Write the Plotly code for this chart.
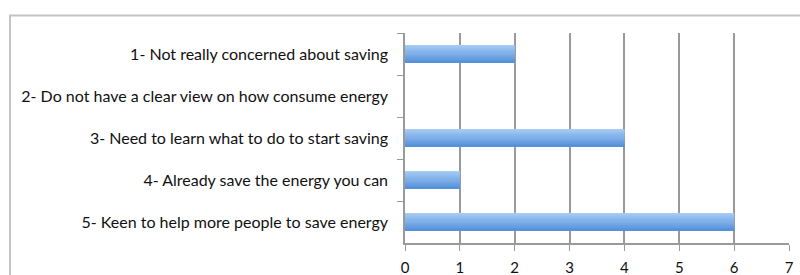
import plotly.graph_objects as go

categories = [
    "1- Not really concerned about saving",
    "2- Do not have a clear view on how consume energy",
    "3- Need to learn what to do to start saving",
    "4- Already save the energy you can",
    "5- Keen to help more people to save energy",
]
values = [2, 0, 4, 1, 6]
x_ticks = [0, 1, 2, 3, 4, 5, 6, 7]

W, H = 800, 275
L, R, T, B = 405, 789, 32.5, 243

# vertical gradient of the bars (top light -> bottom darker), drawn as stripes
top_rgb = (166, 204, 245)
bot_rgb = (86, 146, 218)
n = 16
grad = []
for i in range(n):
    t = i / (n - 1)
    rgb = [round(a + (b - a) * t) for a, b in zip(top_rgb, bot_rgb)]
    grad.append("rgb(%d,%d,%d)" % tuple(rgb))
BAR_W = 0.4
sw = BAR_W / n

fig = go.Figure()
for i, c in enumerate(grad):
    fig.add_trace(go.Bar(
        y=categories, x=values, orientation="h",
        width=sw * 1.3, offset=-BAR_W / 2 + i * sw,
        marker=dict(color=c, line=dict(width=0)),
        hoverinfo="skip",
    ))

fig.update_layout(
    width=W, height=H,
    margin=dict(l=L, r=W - R, t=T, b=H - B, pad=0),
    paper_bgcolor="white", plot_bgcolor="white",
    showlegend=False, barmode="overlay",
    font=dict(family="Lato, Calibri, Arial", size=16, color="#111"),
    xaxis=dict(
        range=[0, 7], tickvals=x_ticks, showgrid=True, gridcolor="#9a9a9a", gridwidth=1.5,
        zeroline=False, showline=True, linecolor="#9a9a9a", linewidth=1.5,
        ticks="outside", ticklen=6, tickcolor="#9a9a9a", automargin=False,
        ticklabelstandoff=4,
        tickfont=dict(size=15, color="#111"),
    ),
    yaxis=dict(
        autorange="reversed", showline=True, linecolor="#9a9a9a", linewidth=1.5,
        ticks="outside", ticklen=6, tickcolor="#9a9a9a", tickson="boundaries",
        showgrid=False, ticklabelstandoff=12, automargin=False,
        tickfont=dict(size=16, color="#111"),
    ),
    shapes=[dict(
        type="rect", xref="paper", yref="paper",
        x0=(10 - L) / (R - L), x1=1.2, y0=-0.3, y1=1 + (T - 15) / (B - T),
        line=dict(color="#c4c4c4", width=2), fillcolor="rgba(0,0,0,0)", layer="below",
    )],
)

fig.write_html(
    "out.html",
    config={"displayModeBar": False},
    post_script="document.body.style.margin='0';document.body.style.overflow='hidden';",
)
